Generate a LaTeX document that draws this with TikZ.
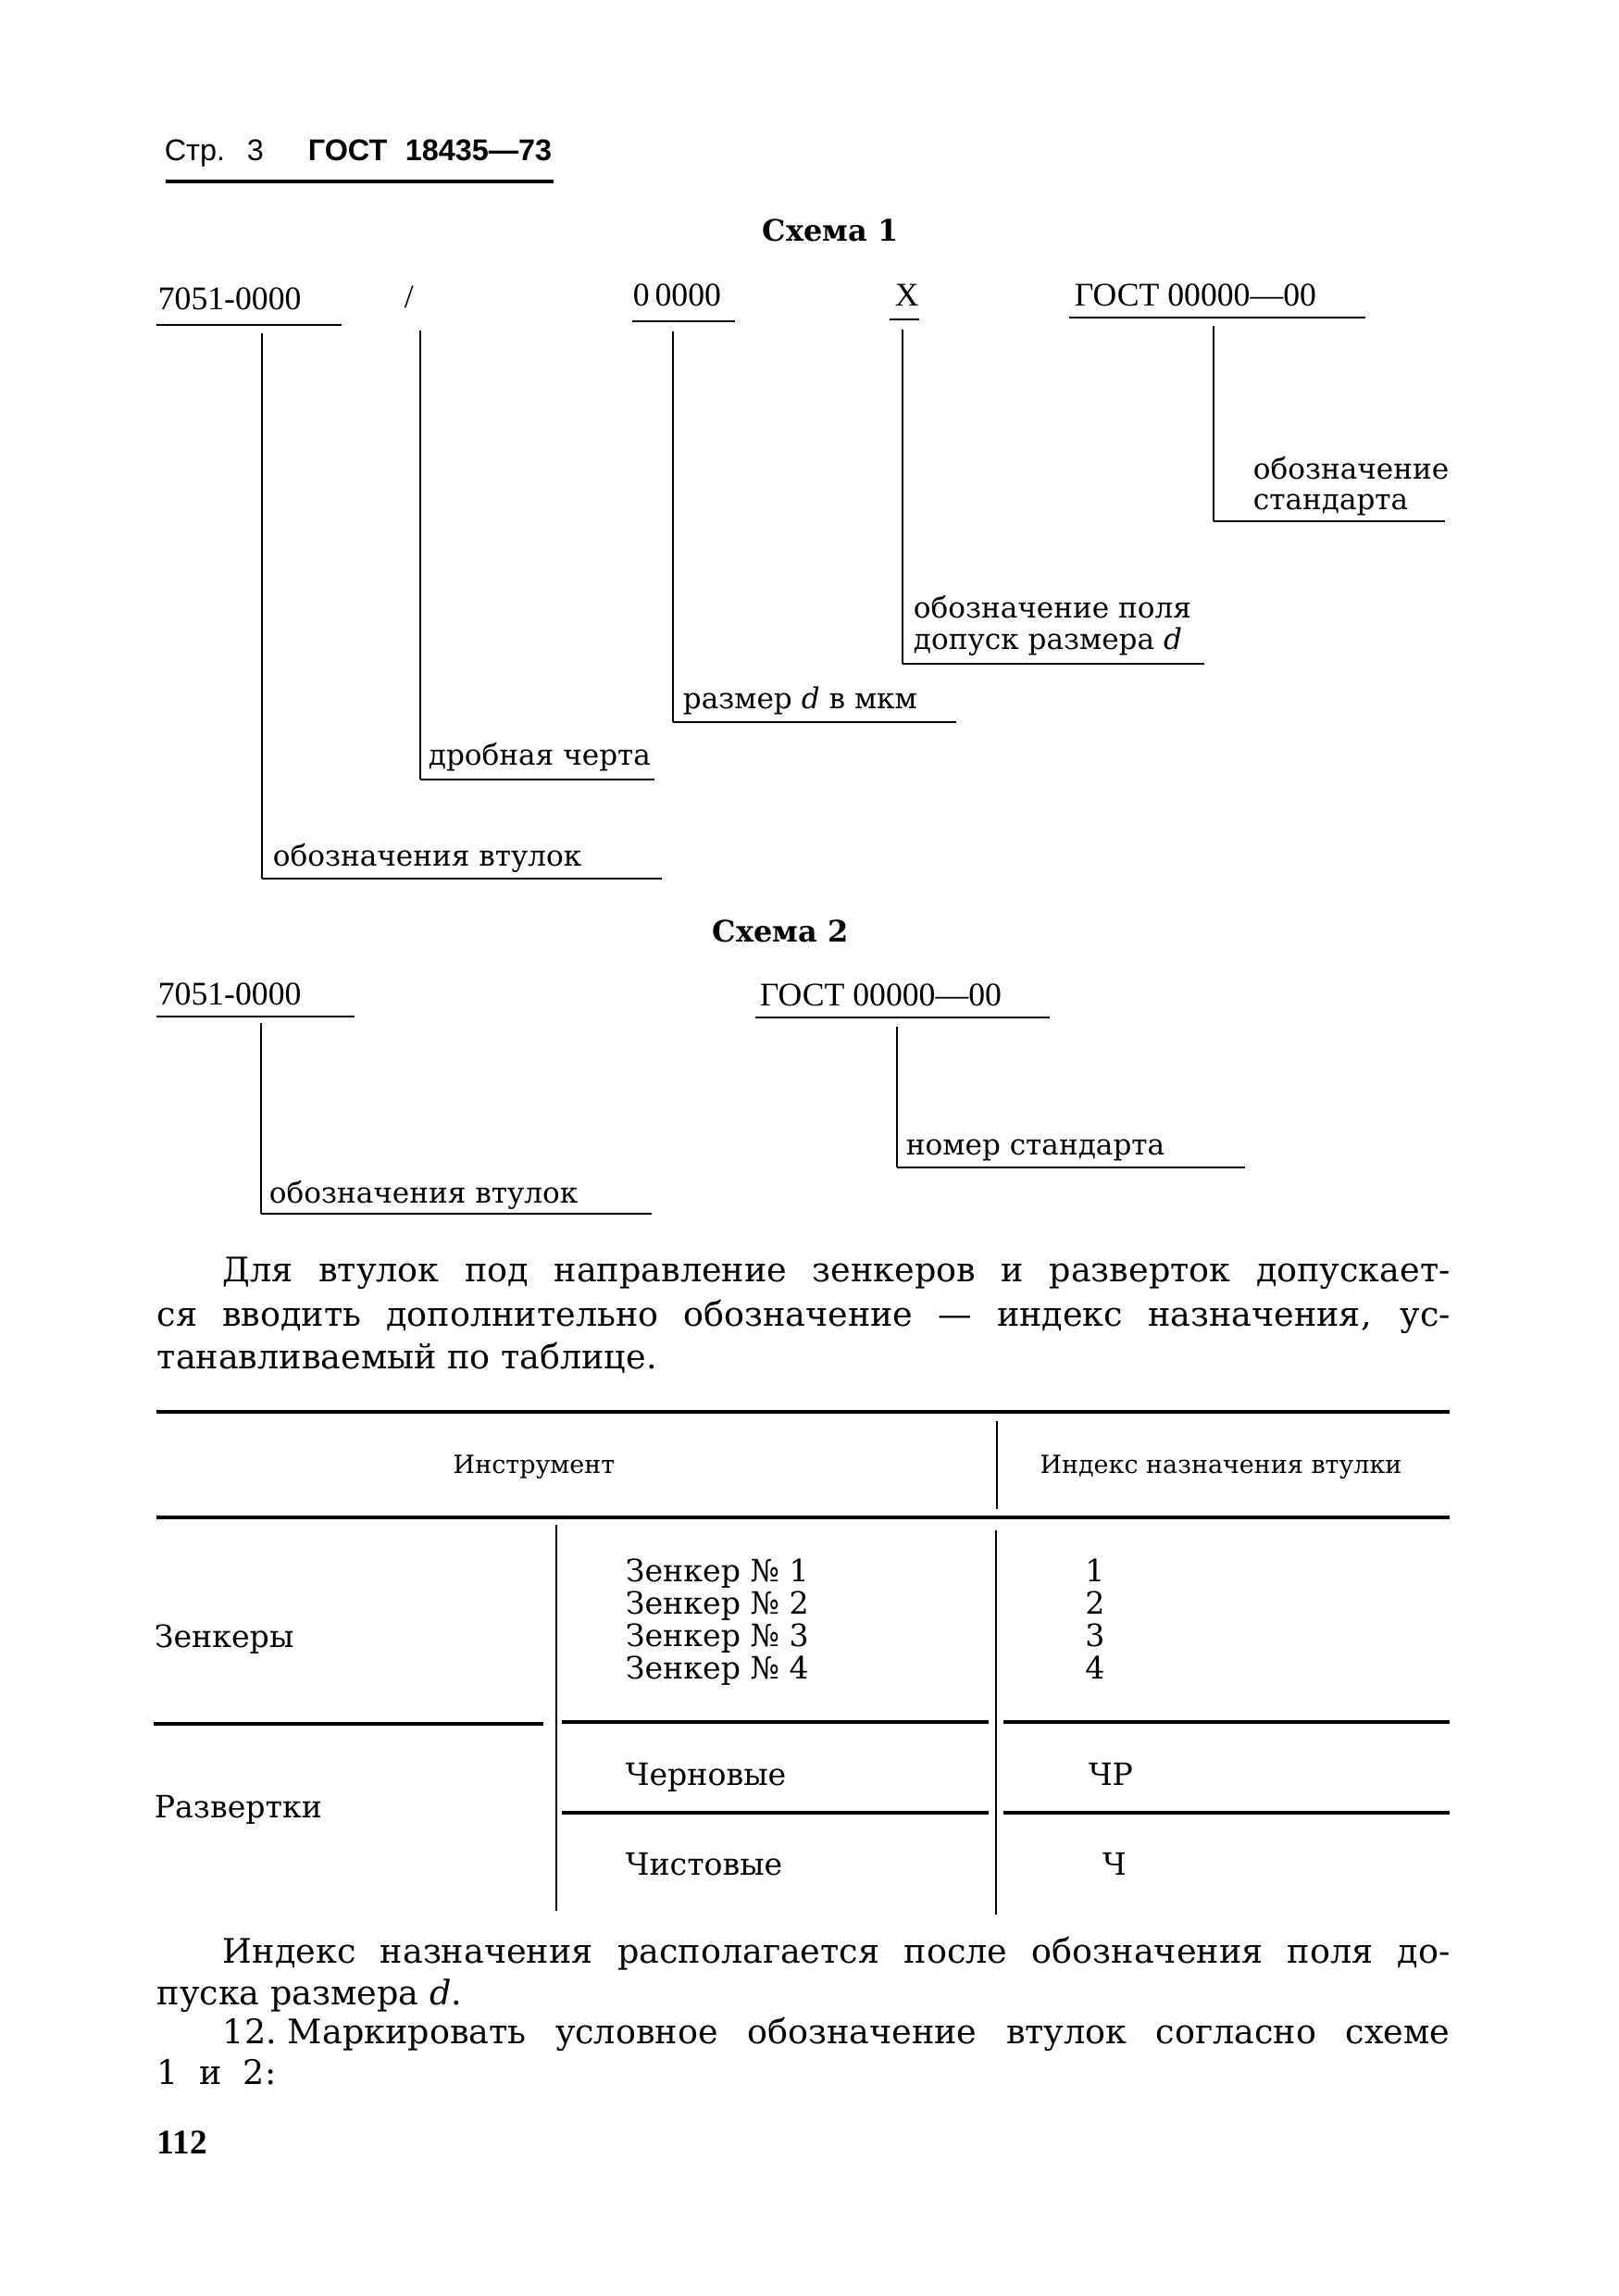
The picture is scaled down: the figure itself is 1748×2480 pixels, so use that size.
\documentclass[tikz,border=0pt]{standalone}
\usepackage{fontspec}
\setmainfont{DejaVu Serif}
\newfontfamily\hdrfont{Liberation Sans}
\newfontfamily\numfont{Liberation Serif}
\begin{document}
\begin{tikzpicture}[x=0.2409pt,y=-0.2409pt,
  hdr/.style={anchor=base west,inner sep=0pt,font=\hdrfont\fontsize{7.8}{9}\selectfont},
  hdrb/.style={anchor=base west,inner sep=0pt,font=\hdrfont\bfseries\fontsize{7.8}{9}\selectfont},
  ttl/.style={anchor=base,inner sep=0pt,font=\bfseries\fontsize{7.7}{9}\selectfont},
  code/.style={anchor=base west,inner sep=0pt,font=\numfont\fontsize{8.6}{10}\selectfont},
  sch/.style={anchor=base west,inner sep=0pt,font=\fontsize{7.5}{8.8}\selectfont},
  body/.style={anchor=base west,inner sep=0pt,font=\fontsize{8.8}{10.5}\selectfont},
  thd/.style={anchor=center,inner sep=0pt,font=\fontsize{6.5}{8}\selectfont},
  tbl/.style={anchor=base west,inner sep=0pt,font=\fontsize{8}{9.5}\selectfont},
  tbc/.style={anchor=base,inner sep=0pt,font=\fontsize{8}{9.5}\selectfont},
  ul/.style={line width=0.6pt},
  vl/.style={line width=0.5pt},
  rule/.style={line width=0.75pt},
  thick rule/.style={line width=1pt}]
\useasboundingbox (0,0) rectangle (1748,2480);
\fill[white] (0,0) rectangle (1748,2480);

% ---- page header ----
\node[hdr] (h1) at (177,174) {Стр.};
\node[hdr] (h2) at (266,174) {3};
\node[hdrb] (h3) at (332,174) {ГОСТ};
\node[hdrb] (h4) at (437,174) {18435—73};
\coordinate (hl1) at (179,196); \coordinate (hl2) at (598,196);
\draw[thick rule] (hl1) -- (hl2);

% ---- Scheme 1 ----
\node[ttl] (s1) at (897,261) {Схема 1};
\node[code] (a1) at (170,335) {7051-0000};
\node[code] (a2) at (436,333) {/};
\node[code] (a3) at (683,331) {0\,0000};
\node[code] (a4) at (966,331) {X};
\node[code] (a5) at (1160,331) {ГОСТ 00000—00};
\coordinate (a1u1) at (169,351); \coordinate (a1u2) at (369,351);
\coordinate (a3u1) at (683,347); \coordinate (a3u2) at (794,347);
\coordinate (a4u1) at (961,345); \coordinate (a4u2) at (993,345);
\coordinate (a5u1) at (1155,343); \coordinate (a5u2) at (1475,343);
\draw[ul] (a1u1) -- (a1u2);
\draw[ul] (a3u1) -- (a3u2);
\draw[ul] (a4u1) -- (a4u2);
\draw[ul] (a5u1) -- (a5u2);

% labels
\node[sch] (l1) at (294,935) {обозначения втулок};
\node[sch] (l2) at (462,827) {дробная черта};
\node[sch] (l3) at (737,766) {размер \textit{d} в мкм};
\node[sch] (l4a) at (986,668) {обозначение поля};
\node[sch] (l4b) at (986,702) {допуск размера \textit{d}};
\node[sch] (l5a) at (1353,518) {обозначение};
\node[sch] (l5b) at (1353,551) {стандарта};

% connectors
\coordinate (c1t) at (283,360);  \coordinate (c1b) at (283,949);  \coordinate (c1e) at (715,949);
\coordinate (c2t) at (454,357);  \coordinate (c2b) at (454,842);  \coordinate (c2e) at (707,842);
\coordinate (c3t) at (727,358);  \coordinate (c3b) at (727,780);  \coordinate (c3e) at (1033,780);
\coordinate (c4t) at (975,356);  \coordinate (c4b) at (975,717);  \coordinate (c4e) at (1301,717);
\coordinate (c5t) at (1311,352); \coordinate (c5b) at (1311,563); \coordinate (c5e) at (1561,563);
\foreach \i in {1,...,5} {
  \draw[vl] (c\i t) -- (c\i b);
  \draw[ul] (c\i b) -- (c\i e);
}

% ---- Scheme 2 ----
\node[ttl] (s2) at (843,1017) {Схема 2};
\node[code] (b1) at (170,1085) {7051-0000};
\node[code] (b2) at (820,1086) {ГОСТ 00000—00};
\coordinate (b1u1) at (169,1098); \coordinate (b1u2) at (383,1098);
\coordinate (b2u1) at (816,1099); \coordinate (b2u2) at (1134,1099);
\draw[ul] (b1u1) -- (b1u2);
\draw[ul] (b2u1) -- (b2u2);
\node[sch] (m1) at (290,1299) {обозначения втулок};
\node[sch] (m2) at (978,1247) {номер стандарта};
\coordinate (d1t) at (282,1105); \coordinate (d1b) at (282,1311); \coordinate (d1e) at (704,1311);
\coordinate (d2t) at (969,1109); \coordinate (d2b) at (969,1261); \coordinate (d2e) at (1345,1261);
\foreach \i in {1,2} {
  \draw[vl] (d\i t) -- (d\i b);
  \draw[ul] (d\i b) -- (d\i e);
}

% ---- paragraph ----
\node[body] (p1) at (240,1384) {\makebox[319.4pt][s]{Для втулок под направление зенкеров и разверток допускает-}};
\node[body] (p2) at (169,1432) {\makebox[336.5pt][s]{ся вводить дополнительно обозначение — индекс назначения, ус-}};
\node[body] (p3) at (169,1478) {танавливаемый по таблице.};

% ---- table ----
\coordinate (r0a) at (169,1525); \coordinate (r0b) at (1566,1525);
\draw[thick rule] (r0a) -- (r0b);
\coordinate (hv1) at (1077,1535); \coordinate (hv2) at (1077,1630);
\draw[vl] (hv1) -- (hv2);
\node[thd] (t1) at (577,1585) {Инструмент};
\node[thd] (t2) at (1319,1585) {Индекс назначения втулки};
\coordinate (r1a) at (169,1639); \coordinate (r1b) at (1566,1639);
\draw[rule] (r1a) -- (r1b);
\coordinate (v1a) at (601,1647); \coordinate (v1b) at (601,2064);
\coordinate (v2a) at (1076,1653); \coordinate (v2b) at (1076,2068);
\draw[vl] (v1a) -- (v1b);
\draw[vl] (v2a) -- (v2b);

\node[tbl,anchor=west] (z0) at (166,1771) {Зенкеры};
\node[tbl] (z1) at (675,1708) {Зенкер № 1};
\node[tbl] (z2) at (675,1743) {Зенкер № 2};
\node[tbl] (z3) at (675,1778) {Зенкер № 3};
\node[tbl] (z4) at (675,1813) {Зенкер № 4};
\node[tbc] (i1) at (1183,1708) {1};
\node[tbc] (i2) at (1183,1743) {2};
\node[tbc] (i3) at (1183,1778) {3};
\node[tbc] (i4) at (1183,1813) {4};

\coordinate (r2a) at (166,1862); \coordinate (r2b) at (587,1862);
\coordinate (r2c) at (607,1860); \coordinate (r2d) at (1068,1860);
\coordinate (r2e) at (1084,1860); \coordinate (r2f) at (1566,1860);
\draw[rule] (r2a) -- (r2b);
\draw[rule] (r2c) -- (r2d);
\draw[rule] (r2e) -- (r2f);

\node[tbl,anchor=west] (x0) at (166,1955) {Развертки};
\node[tbl] (x1) at (675,1928) {Черновые};
\node[tbc] (j1) at (1200,1928) {ЧР};
\coordinate (r3c) at (607,1958); \coordinate (r3d) at (1068,1958);
\coordinate (r3e) at (1084,1958); \coordinate (r3f) at (1566,1958);
\draw[rule] (r3c) -- (r3d);
\draw[rule] (r3e) -- (r3f);
\node[tbl] (x2) at (675,2025) {Чистовые};
\node[tbc] (j2) at (1204,2025) {Ч};

% ---- closing text ----
\node[body] (q1) at (240,2120) {\makebox[319.4pt][s]{Индекс назначения располагается после обозначения поля до-}};
\node[body] (q2) at (169,2165) {пуска размера \textit{d}.};
\node[body] (q3) at (240,2207) {\makebox[319.4pt][s]{12.\hspace{0.33em}Маркировать условное обозначение втулок согласно схеме}};
\node[body] (q4) at (169,2251) {\makebox[31pt][s]{1 и 2:}};
\node[body,font=\numfont\bfseries\fontsize{9}{10.5}\selectfont] (q5) at (169,2326) {112};
\end{tikzpicture}
\end{document}
